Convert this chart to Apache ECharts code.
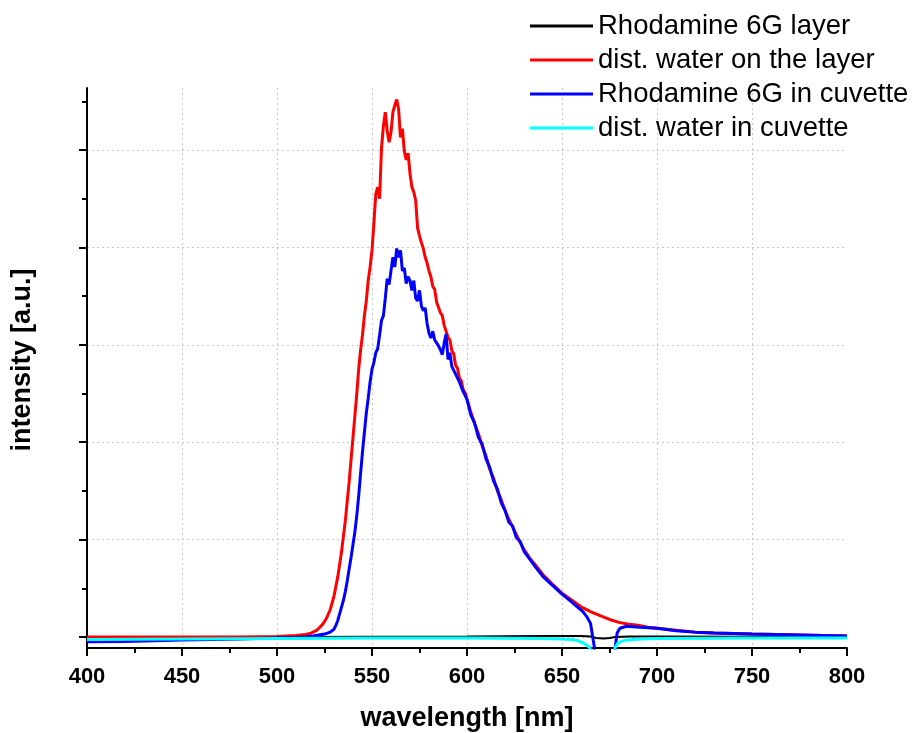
<!DOCTYPE html>
<html>
<head>
<meta charset="utf-8">
<script src="https://cdn.jsdelivr.net/npm/echarts@6/dist/echarts.min.js"></script>
<style>html,body{margin:0;padding:0;background:#fff}#c{width:914px;height:733px}</style>
</head>
<body>
<div id="c"></div>
<script>
// ---- data (y in arbitrary units) ----
const seriesNames = ['Rhodamine 6G layer', 'dist. water on the layer', 'Rhodamine 6G in cuvette', 'dist. water in cuvette'];
const seriesColors = ['#000000', '#ff0000', '#0000ff', '#00ffff'];

const xTicks = [400, 450, 500, 550, 600, 650, 700, 750, 800];
const yMajorTicks = [0, 1, 2, 3, 4, 5];
const yMinorTicks = [0.5, 1.5, 2.5, 3.5, 4.5, 5.5];

const blackX = [400, 500, 600, 640, 660, 665, 668, 672, 675, 678, 685, 700, 800];
const blackY = [0, 0, 0.005, 0.01, 0.01, 0.005, -0.01, -0.015, -0.01, 0, 0.005, 0.005, 0];

const redX = [400, 450, 480, 500, 505, 510, 515, 518, 521, 524, 526, 528, 530, 532, 534, 536, 538, 540, 542, 543, 544, 545, 546, 547, 548, 549, 550, 551, 552, 553, 554, 555, 556, 557, 558, 559, 560, 561, 562, 563, 564, 565, 566, 567, 568, 569, 570, 571, 572, 573, 574, 575, 576, 577, 578, 579, 580, 581, 582, 583, 584, 585, 586, 587, 588, 589, 590, 591, 592, 593, 594, 595, 596, 597, 598, 599, 600, 602, 604, 606, 608, 610, 612, 614, 616, 618, 620, 622, 624, 626, 628, 630, 633, 636, 640, 645, 650, 655, 660, 665, 670, 675, 680, 685, 690, 695, 700, 710, 720, 730, 740, 750, 775, 800];
const redY = [0, 0, 0, 0.005, 0.01, 0.015, 0.025, 0.04, 0.07, 0.13, 0.19, 0.28, 0.42, 0.62, 0.88, 1.2, 1.6, 2.05, 2.5, 2.75, 2.95, 3.1, 3.3, 3.45, 3.66, 3.8, 3.97, 4.25, 4.55, 4.62, 4.5, 5.02, 5.25, 5.39, 5.2, 5.08, 5.18, 5.39, 5.46, 5.52, 5.42, 5.13, 5.22, 4.99, 4.9, 4.97, 4.76, 4.62, 4.57, 4.48, 4.2, 4.12, 4.05, 3.99, 3.9, 3.84, 3.76, 3.7, 3.6, 3.57, 3.44, 3.43, 3.33, 3.3, 3.2, 3.19, 3.08, 3.05, 2.94, 2.91, 2.79, 2.76, 2.66, 2.63, 2.54, 2.51, 2.44, 2.31, 2.19, 2.09, 1.96, 1.86, 1.72, 1.63, 1.5, 1.41, 1.3, 1.21, 1.13, 1.05, 0.97, 0.9, 0.81, 0.74, 0.64, 0.54, 0.45, 0.38, 0.31, 0.26, 0.22, 0.18, 0.15, 0.13, 0.12, 0.1, 0.09, 0.07, 0.05, 0.04, 0.035, 0.03, 0.02, 0.01];

const blueX = [400, 420, 450, 480, 500, 510, 515, 519, 522, 525, 528, 530, 531, 532, 533, 534, 535, 536, 537, 538, 539, 540, 541, 542, 543, 544, 545, 546, 547, 548, 549, 550, 551, 552, 553, 554, 555, 556, 557, 558, 559, 560, 561, 562, 563, 564, 565, 566, 567, 568, 569, 570, 571, 572, 573, 574, 575, 576, 577, 578, 579, 580, 581, 582, 583, 584, 585, 586, 587, 588, 589, 590, 591, 592, 593, 594, 595, 596, 597, 598, 599, 600, 602, 604, 606, 608, 610, 612, 614, 616, 618, 620, 622, 624, 626, 628, 630, 633, 636, 640, 645, 650, 655, 658, 661, 663, 665, 666, 667, 668, 677, 678, 679, 680.5, 684, 691, 700, 710, 720, 730, 750, 775, 800];
const blueY = [-0.05, -0.045, -0.03, -0.02, -0.01, -0.005, 0, 0.01, 0.02, 0.03, 0.05, 0.08, 0.12, 0.17, 0.24, 0.31, 0.38, 0.47, 0.58, 0.7, 0.82, 0.95, 1.08, 1.25, 1.45, 1.68, 1.9, 2.1, 2.3, 2.45, 2.62, 2.75, 2.82, 2.92, 2.96, 3.1, 3.25, 3.3, 3.48, 3.68, 3.62, 3.76, 3.9, 3.8, 3.99, 3.9, 3.97, 3.76, 3.79, 3.63, 3.7, 3.66, 3.56, 3.66, 3.48, 3.45, 3.56, 3.4, 3.35, 3.38, 3.22, 3.12, 3.07, 3.14, 3.05, 3.04, 2.99, 2.95, 2.9, 3.02, 3.11, 2.85, 2.92, 2.78, 2.8, 2.7, 2.72, 2.62, 2.6, 2.52, 2.5, 2.44, 2.28, 2.2, 2.05, 1.98, 1.83, 1.74, 1.6, 1.52, 1.38, 1.3, 1.18, 1.14, 1.02, 0.98, 0.88, 0.8, 0.72, 0.62, 0.53, 0.44, 0.36, 0.31, 0.26, 0.21, 0.14, 0.02, -0.1, -1, -1, -0.11, 0.04, 0.09, 0.11, 0.1, 0.09, 0.065, 0.05, 0.04, 0.03, 0.02, 0.01];

const cyanX = [400, 450, 500, 550, 600, 640, 650, 655, 658, 661, 663, 664.7, 665.5, 677, 677.9, 679.5, 682, 684, 691, 700, 750, 800];
const cyanY = [-0.025, -0.02, -0.015, -0.01, -0.01, -0.015, -0.02, -0.025, -0.035, -0.06, -0.085, -0.11, -1, -1, -0.11, -0.06, -0.04, -0.03, -0.02, -0.015, -0.01, -0.01];

// ---- chart ----
const Y_MIN = -0.113, Y_MAX = 5.638;
const pairs = (xs, ys) => xs.map((x, i) => [x, ys[i]]);
const allX = [blackX, redX, blueX, cyanX];
const allY = [blackY, redY, blueY, cyanY];
const widths = [2, 3, 3, 3];
const FONT = '"Liberation Sans", Arial, sans-serif';

const chart = echarts.init(document.getElementById('c'), null, { renderer: 'canvas' });
chart.setOption({
  animation: false,
  backgroundColor: '#ffffff',
  textStyle: { fontFamily: FONT },
  grid: { left: 87, right: 67, top: 88, bottom: 85, containLabel: false, outerBoundsMode: 'none' },
  legend: {
    left: 525, top: 4, orient: 'vertical', icon: 'rect', itemWidth: 63, itemHeight: 3,
    itemGap: 0, selectedMode: false,
    textStyle: { fontFamily: FONT, fontSize: 27.5, color: '#000', lineHeight: 34 },
    data: seriesNames
  },
  xAxis: {
    type: 'value', min: 400, max: 800, interval: 50,
    name: 'wavelength [nm]', nameLocation: 'middle', nameGap: 57,
    nameTextStyle: { fontFamily: FONT, fontSize: 27, fontWeight: 'bold', color: '#000' },
    axisLine: { show: true, onZero: false, lineStyle: { color: '#000', width: 2 } },
    axisTick: { show: true, length: 8, lineStyle: { color: '#000', width: 2 } },
    minorTick: { show: true, splitNumber: 2, length: 5, lineStyle: { color: '#000', width: 2 } },
    axisLabel: { fontFamily: FONT, fontSize: 22, fontWeight: 'bold', color: '#000', margin: 18,
      customValues: xTicks },
    splitLine: { show: true, showMinLine: false, showMaxLine: false,
      lineStyle: { color: '#c8c8c8', type: [2, 3], width: 1 } },
    minorSplitLine: { show: false }
  },
  yAxis: [{
    type: 'value', min: Y_MIN, max: Y_MAX, position: 'left',
    name: 'intensity [a.u.]', nameLocation: 'middle', nameGap: 51,
    nameTextStyle: { fontFamily: FONT, fontSize: 27, fontWeight: 'bold', color: '#000', padding: [0, 0, 0, 16] },
    axisLine: { show: true, onZero: false, lineStyle: { color: '#000', width: 2 } },
    axisTick: { show: true, length: 8, customValues: yMajorTicks, lineStyle: { color: '#000', width: 2 } },
    axisLabel: { show: false },
    splitLine: { show: true, customValues: yMajorTicks.filter(v => v > 0),
      lineStyle: { color: '#c8c8c8', type: [2, 3], width: 1 } }
  }, {
    type: 'value', min: Y_MIN, max: Y_MAX, position: 'left', offset: 0,
    axisLine: { show: false },
    axisTick: { show: true, length: 5, customValues: yMinorTicks, lineStyle: { color: '#000', width: 2 } },
    axisLabel: { show: false },
    splitLine: { show: false }
  }],
  series: seriesNames.map((name, i) => ({
    name, type: 'line', yAxisIndex: 0, showSymbol: false, symbol: 'none',
    clip: true, smooth: false,
    lineStyle: { color: seriesColors[i], width: widths[i] },
    itemStyle: { color: seriesColors[i] },
    data: pairs(allX[i], allY[i])
  }))
});
</script>
</body>
</html>
